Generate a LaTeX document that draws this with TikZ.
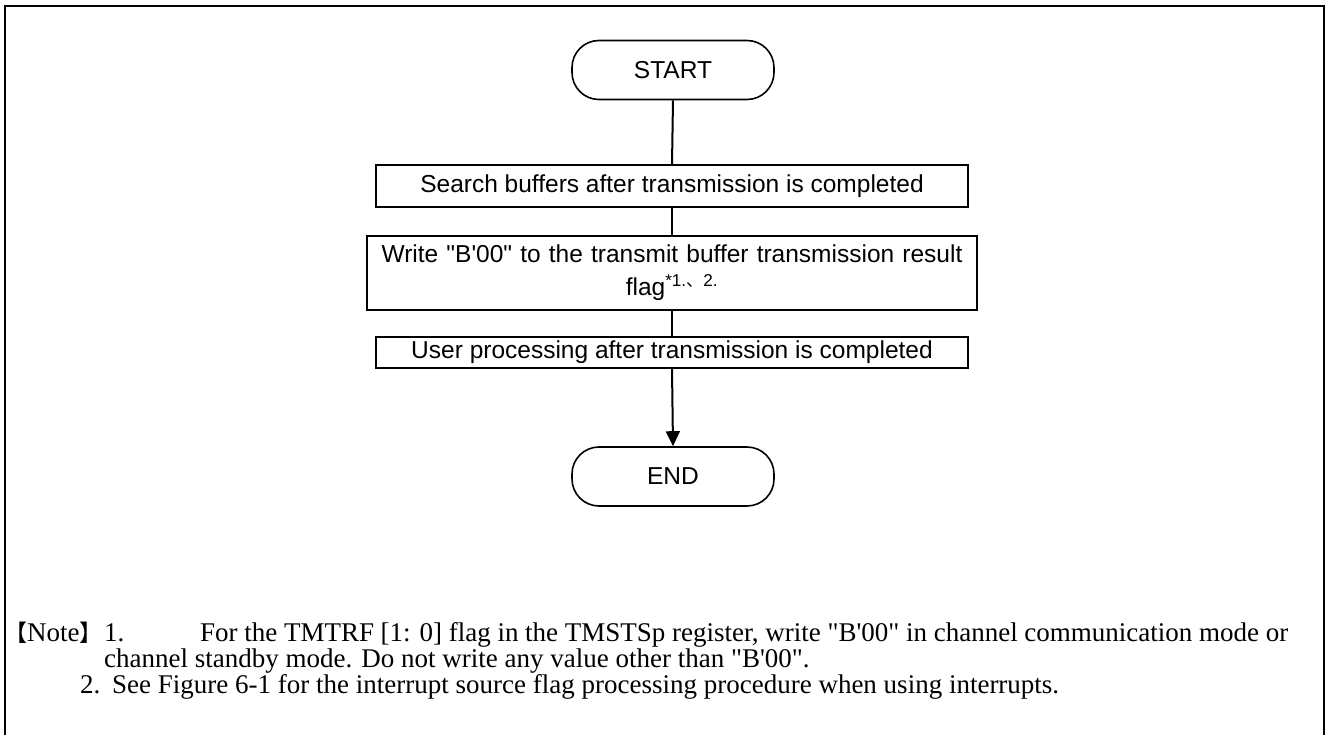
\documentclass[tikz,border=0pt]{standalone}
\usepackage{fontspec}
\setmainfont{Liberation Serif}
\newfontfamily\arialfont{Liberation Sans}
\newfontfamily\cjkfont{Noto Sans CJK JP}
\usepackage{tikz}
\usetikzlibrary{shapes,arrows,arrows.meta,calc,positioning}
\newcommand{\qB}{\textquotedbl B\textquotesingle 00\textquotedbl}
\tikzstyle{tsFlowText} = [
    text=black,
    font=\arialfont\fontsize{24.5}{33}\selectfont
]
\tikzstyle{tsBox} = [
    rectangle,
    tsFlowText,
    text centered,
    align=center,
    draw=black,
    line width=1.6pt]
\tikzstyle{tsTerminal} = [
    tsBox,
    rounded corners=27pt,
    minimum width=202pt,
    minimum height=59pt
]
\tikzstyle{tsNote} = [
    text=black,
    font=\fontsize{27}{27}\selectfont,
    inner sep=0pt,
    anchor=base west
]
\tikzstyle{tsLine} = [line width=2pt]

\begin{document}
\begin{tikzpicture}[x=1pt, y=-1pt]
        \useasboundingbox (0,0) rectangle (1326,735);
        % open frame
        \draw[line width=2pt] (5,745) -- (5,6) -- (1324,6) -- (1324,745);

        % Define nodes
        \node[tsTerminal] (st) at (673,70) {START};

        \node[  tsBox,
                minimum width=592pt,
                minimum height=42pt] (sb) at (672,186) {Search buffers after transmission is completed};

        \node[  tsBox,
                minimum width=610pt,
                minimum height=74pt,
                text width=596pt,
                inner sep=4pt] (wr) at (672,273) {Write \qB{} to the transmit buffer transmission result\\flag\textsuperscript{*1.{\cjkfont 、}2.}};

        \node[  tsBox,
                minimum width=592pt,
                minimum height=31pt,
                inner sep=0pt] (up) at (672,352.5) {User processing after transmission is completed};

        \node[tsTerminal] (en) at (673,476.5) {END};

        \draw[tsLine] (st.south) -- (sb.north);
        \draw[tsLine] (sb.south) -- (wr.north);
        \draw[tsLine] (wr.south) -- (up.north);
        \draw[tsLine, -{Triangle[length=15pt,width=14pt]}] (up.south) -- (en.north);

        % notes
        \node[tsNote] (nt) at (4,641) {{\cjkfont\fontsize{23}{27}\selectfont 【}Note{\cjkfont\fontsize{23}{27}\selectfont 】}};
        \node[tsNote] (n1) at (104,641) {1.};
        \node[tsNote] (n1a) at (200,641) {\makebox[1088pt][s]{For the TMTRF [1: 0] flag in the TMSTSp register, write \qB{} in channel communication mode or}};
        \node[tsNote] (n1b) at (104,667) {channel standby mode. Do not write any value other than \qB.};
        \node[tsNote] (n2) at (80,693) {2.};
        \node[tsNote] (n2a) at (112,693) {See Figure 6-1 for the interrupt source flag processing procedure when using interrupts.};
\end{tikzpicture}
\end{document}
